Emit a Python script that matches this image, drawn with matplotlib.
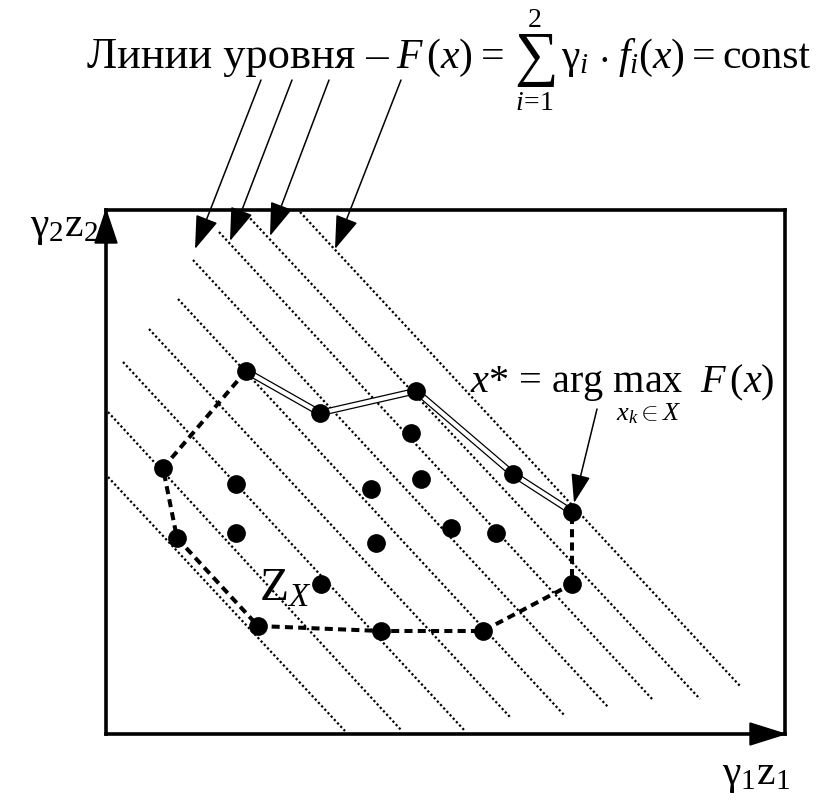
import matplotlib
matplotlib.use("Agg")
import matplotlib.pyplot as plt
from matplotlib.patches import Polygon

plt.rcParams['font.family'] = ['Liberation Serif', 'DejaVu Serif']
plt.rcParams['mathtext.fontset'] = 'custom'
plt.rcParams['mathtext.rm'] = 'Liberation Serif'
plt.rcParams['mathtext.it'] = 'Liberation Serif:italic'
plt.rcParams['mathtext.bf'] = 'Liberation Serif:bold'

W, H, DPI = 826, 803, 100

# ---------------- data (criterion space, units of the box) ----------------
BOX_W, BOX_H = 679, 524

# Pareto (upper-right) chain of the admissible set
pareto_x = [140, 214, 310, 407, 466]
pareto_y = [363, 321, 343, 260, 222]

# dashed remaining boundary of Z_X
hull_x = [140, 57, 71, 152, 275, 377, 466, 466]
hull_y = [363, 266, 196, 108, 103, 103, 150, 222]

# inner points of Z_X
inner_x = [130, 130, 215, 305, 315, 265, 270, 345, 390]
inner_y = [250, 201, 150, 301, 255, 245, 191, 206, 201]

# level lines F(x) = const (start / end)
level_x0 = [194, 141, 113, 87, 72, 43, 17, 2, 2]
level_y0 = [522, 519, 502, 474, 435, 405, 372, 322, 257]
level_x1 = [634, 594, 547, 502, 459, 404, 359, 296, 239]
level_y1 = [48, 35, 34, 27, 18, 17, 3, 3, 3]

# pointer arrows from the title to the level lines (figure pixels, y down)
ptr_tail_x = [261, 292, 329, 401]
ptr_tail_y = [81, 81, 81, 81]
ptr_tip_x = [195, 230, 270, 335]
ptr_tip_y = [250, 242, 237, 250]

# ---------------- figure ----------------
fig = plt.figure(figsize=(W / DPI, H / DPI), dpi=DPI)
fig.patch.set_facecolor('white')

BX0, BY_TOP, BY_BOT = 106, 211, 735
ax = fig.add_axes([BX0 / W, (H - BY_BOT) / H, BOX_W / W, BOX_H / H])
ax.set_xlim(0, BOX_W)
ax.set_ylim(0, BOX_H)
ax.set_xticks([])
ax.set_yticks([])
for sp in ax.spines.values():
    sp.set_linewidth(2.6)
    sp.set_color('black')

# level lines
for x0, y0, x1, y1 in zip(level_x0, level_y0, level_x1, level_y1):
    ax.plot([x0, x1], [y0, y1], color='black', lw=1.6,
            linestyle=(0, (1.0, 1.1)), zorder=2, dash_capstyle='butt')

# dashed boundary
ax.plot(hull_x, hull_y, color='black', lw=2.9, linestyle=(0, (2.0, 1.3)),
        zorder=3, dash_capstyle='butt')

# double line of Pareto chain
ax.plot(pareto_x, pareto_y, color='black', lw=4.8, zorder=3,
        solid_joinstyle='miter')
ax.plot(pareto_x, pareto_y, color='white', lw=3.0, zorder=3.1,
        solid_joinstyle='miter')

# points
all_x = pareto_x + hull_x[1:-1] + inner_x
all_y = pareto_y + hull_y[1:-1] + inner_y
ax.plot(all_x, all_y, 'o', color='black', markersize=13.5, zorder=5,
        markeredgewidth=0)

# axis arrowheads
ax.add_patch(Polygon([(0, BOX_H), (-11, BOX_H - 33), (11, BOX_H - 33)],
                     closed=True, color='black', clip_on=False, zorder=6))
ax.add_patch(Polygon([(BOX_W, 0), (BOX_W - 35, 11), (BOX_W - 35, -11)],
                     closed=True, color='black', clip_on=False, zorder=6))

# ---------------- overlay in figure pixels (y downwards) ----------------
ov = fig.add_axes([0, 0, 1, 1])
ov.set_xlim(0, W)
ov.set_ylim(H, 0)
ov.axis('off')
ov.patch.set_visible(False)

fig.canvas.draw()
r = fig.canvas.get_renderer()


def put(s, x, yb, size, ha='left', **kw):
    t = ov.text(x, yb, s, fontsize=size, ha=ha, va='baseline', **kw)
    bb = t.get_window_extent(renderer=r)
    return t, bb


TS = 32
MS = 30
yb = 68
_, bb = put("Линии уровня –", 87, yb, TS)
x = bb.x1 + 7
_, bb = put(r"$F\,(x)$", x, yb, MS)
x = bb.x1 + 8
_, bb = put("=", x, yb, MS)
x = bb.x1 + 10
_, bbs = put(r"$\mathrm{∑}$", x, yb + 6, 44)
cx = (bbs.x0 + bbs.x1) / 2
sig_top = H - bbs.y1
sig_bot = H - bbs.y0
put("2", cx, sig_top - 5, 20, ha='center')
put(r"$i\!=\!1$", cx, sig_bot + 21, 20, ha='center')
x = bbs.x1 + 6
_, bb = put(r"$\mathrm{\gamma}_i$", x, yb, MS)
x = bb.x1 + 9
_, bb = put(r"$\cdot$", x, yb, MS)
x = bb.x1 + 9
_, bb = put(r"$f_i(x)$", x, yb, MS)
x = bb.x1 + 7
_, bb = put("=", x, yb, MS)
x = bb.x1 + 7
put("const", x, yb, MS)

# title pointer arrows
for tx, ty, hx, hy in zip(ptr_tail_x, ptr_tail_y, ptr_tip_x, ptr_tip_y):
    ov.annotate('', xy=(hx, hy), xytext=(tx, ty),
                arrowprops=dict(arrowstyle='-|>,head_length=1.05,head_width=0.36',
                                mutation_scale=20, lw=1.1, color='black',
                                shrinkA=0, shrinkB=0))

# optimum label
put(r"$x$* = arg max $\;F\,(x)$", 470, 392, 29)
put(r"$x_k \in X$", 648, 420, 19, ha='center')
ov.annotate('', xy=(574, 504), xytext=(597, 410),
            arrowprops=dict(arrowstyle='-|>,head_length=0.9,head_width=0.3',
                            mutation_scale=20, lw=1.1, color='black',
                            shrinkA=0, shrinkB=0))

# Z_X label
put(r"$\mathrm{Z}_X$", 259, 601, 34)

# axis labels
put(r"$\mathrm{\gamma}_2\mathrm{z}_2$", 30, 236, 30)
put(r"$\mathrm{\gamma}_1\mathrm{z}_1$", 722, 784, 30)

fig.savefig("out.png", dpi=DPI, facecolor='white')
